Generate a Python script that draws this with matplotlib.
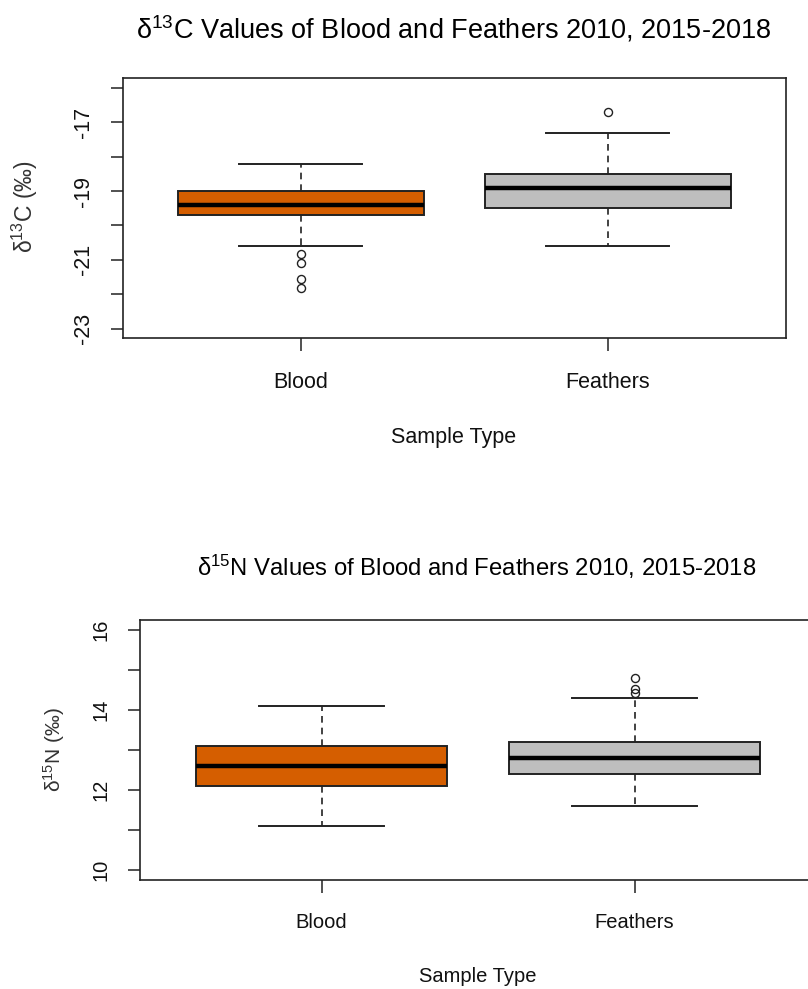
import matplotlib
matplotlib.use('Agg')
import matplotlib.pyplot as plt

plt.rcParams['font.family'] = ['Liberation Sans', 'DejaVu Sans']
plt.rcParams['mathtext.fontset'] = 'custom'
plt.rcParams['mathtext.rm'] = 'Liberation Sans'
plt.rcParams['mathtext.it'] = 'Liberation Sans:italic'

# sample types
groups = ["Blood", "Feathers"]
box_colors = ["#D55E00", "#BEBEBE"]

# d13C box statistics
c_whislo = [-20.6, -20.6]
c_q1 = [-19.7, -19.5]
c_med = [-19.4, -18.9]
c_q3 = [-19.0, -18.5]
c_whishi = [-18.2, -17.3]
c_fliers = [[-20.82, -21.1, -21.55, -21.81], [-16.7]]

# d15N box statistics
n_whislo = [11.1, 11.6]
n_q1 = [12.1, 12.4]
n_med = [12.6, 12.8]
n_q3 = [13.1, 13.2]
n_whishi = [14.1, 14.3]
n_fliers = [[], [14.8, 14.52, 14.43]]

FIG_W, FIG_H = 808, 989


def fx(px):
    return px / FIG_W


def fy(py):
    return 1 - py / FIG_H


def make_stats(lo, q1, med, q3, hi, fl):
    return [dict(whislo=lo[i], q1=q1[i], med=med[i], q3=q3[i], whishi=hi[i],
                 fliers=fl[i], label=groups[i]) for i in range(len(groups))]


def draw_panel(fig, rect, stats, ylim, yticks, ylabels, fs):
    ax = fig.add_axes(rect)
    bp = ax.bxp(stats, positions=[1, 2], widths=0.8, patch_artist=True,
                boxprops=dict(edgecolor='#222222', linewidth=1.4),
                medianprops=dict(color='black', linewidth=3.2),
                whiskerprops=dict(color='#222222', linewidth=1.2, linestyle=(0, (4, 3))),
                capprops=dict(color='#222222', linewidth=1.4),
                capwidths=0.4,
                flierprops=dict(marker='o', markerfacecolor='none',
                                markeredgecolor='#222222', markersize=5.8,
                                markeredgewidth=1.0))
    for patch, c in zip(bp['boxes'], box_colors):
        patch.set_facecolor(c)
    ax.set_xlim(0.42, 2.58)
    ax.set_ylim(*ylim)
    ax.set_yticks(yticks)
    ax.set_yticklabels(ylabels, rotation=90, va='center')
    ax.set_xticks([1, 2])
    ax.set_xticklabels(groups)
    ax.tick_params(axis='both', length=9, width=1.1, color='#222222',
                   labelsize=fs, labelcolor='#111111')
    ax.tick_params(axis='y', pad=12)
    ax.tick_params(axis='x', pad=15)
    for s in ax.spines.values():
        s.set_color('#222222')
        s.set_linewidth(1.2)
    return ax


fig = plt.figure(figsize=(FIG_W / 100, FIG_H / 100), dpi=100)

# top panel: d13C
top_stats = make_stats(c_whislo, c_q1, c_med, c_q3, c_whishi, c_fliers)
c_ticks = list(range(-23, -15))
c_labels = [str(t) if t % 2 else '' for t in c_ticks]
draw_panel(fig, [fx(122.7), fy(338.3), fx(786 - 122.7), (338.3 - 78.3) / FIG_H],
           top_stats, (-23.28, -15.72), c_ticks, c_labels, 15.5)
fig.text(fx(454), fy(29), r"δ$^{13}$C Values of Blood and Feathers 2010, 2015-2018",
         ha='center', va='center', fontsize=19.5, color='black')
fig.text(fx(454), fy(437), "Sample Type", ha='center', va='center', fontsize=15.5,
         color='#111111')
fig.text(fx(25), fy(207), r"δ$^{13}$C (‰)", ha='center', va='center', rotation=90,
         fontsize=16.5, color='#333333')

# bottom panel: d15N
bot_stats = make_stats(n_whislo, n_q1, n_med, n_q3, n_whishi, n_fliers)
n_ticks = list(range(10, 17))
n_labels = [str(t) if t % 2 == 0 else '' for t in n_ticks]
draw_panel(fig, [fx(140), fy(880), fx(816.2 - 140), (880 - 620) / FIG_H],
           bot_stats, (9.76, 16.24), n_ticks, n_labels, 14.5)
fig.text(fx(477), fy(567), r"δ$^{15}$N Values of Blood and Feathers 2010, 2015-2018",
         ha='center', va='center', fontsize=17.2, color='black')
fig.text(fx(478), fy(976), "Sample Type", ha='center', va='center', fontsize=14.5,
         color='#111111')
fig.text(fx(54), fy(750), r"δ$^{15}$N (‰)", ha='center', va='center', rotation=90,
         fontsize=15, color='#333333')

fig.savefig('out.png', dpi=100)
plt.close(fig)
